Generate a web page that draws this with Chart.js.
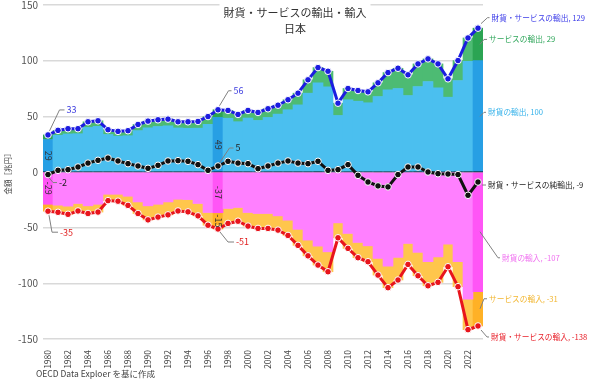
<!DOCTYPE html>
<html>
<head>
<meta charset="utf-8">
<script src="https://cdn.jsdelivr.net/npm/chart.js@4/dist/chart.umd.min.js"></script>
<style>
  html, body { margin: 0; padding: 0; background: #fff; }
  #wrap { width: 590px; height: 385px; }
</style>
</head>
<body>
<div id="wrap"><canvas id="chart" width="590" height="385"></canvas></div>
<script>
const years = ['1980','1981','1982','1983','1984','1985','1986','1987','1988','1989',
  '1990','1991','1992','1993','1994','1995','1996','1997','1998','1999',
  '2000','2001','2002','2003','2004','2005','2006','2007','2008','2009',
  '2010','2011','2012','2013','2014','2015','2016','2017','2018','2019',
  '2020','2021','2022','2023'];

// 兆円
const goodsExports = [29.2, 33, 34.2, 34.4, 40, 41, 33.7, 32.2, 32.6, 37.2,
  39.7, 40.9, 41.5, 39.6, 39.3, 39.4, 42.8, 49, 48.3, 45.2,
  48.5, 46.3, 49, 52, 55.9, 60.3, 70.8, 80, 76.5, 50.8,
  64.9, 63.6, 62.2, 67.8, 73.8, 75, 68.7, 76.8, 81.3, 75.6,
  67.2, 82.2, 99.5, 100];
const servicesExports = [4.1, 4.4, 4.7, 4.5, 5.1, 5, 4.3, 4.3, 4.5, 5.5,
  6, 6, 6, 5.5, 5.8, 6, 7, 6.9, 7, 6.5,
  6.8, 7.2, 7.8, 8, 9, 10.5, 12, 13.8, 14, 11,
  10.1, 9.6, 9.8, 12.3, 15.5, 18.2, 18.6, 20.3, 20.3, 21.5,
  16.5, 17.9, 20.9, 29.2];
const goodsImports = [-29, -29.8, -30.7, -28.3, -30.4, -29, -20, -20, -21.8, -26.9,
  -30.4, -29, -26.9, -24.5, -24.8, -28.3, -36.4, -36.6, -32.8, -31.9,
  -36.4, -37.3, -37.3, -39.4, -43.3, -51.5, -61.2, -66.6, -71.7, -45.7,
  -55.2, -63.3, -66.3, -77.6, -84.5, -76.7, -64.2, -72.2, -80.6, -76.2,
  -64.8, -80.6, -114.3, -107.4];
const servicesImports = [-6.2, -6.4, -7.3, -6.7, -6.9, -7, -5.7, -6.2, -8.2, -10.4,
  -12.6, -11.5, -11.6, -10.5, -11, -11.1, -11.4, -14.6, -13.4, -12.3,
  -12.2, -13.4, -13.4, -12.8, -13.7, -14.4, -14.1, -17, -17.9, -13.4,
  -13.4, -13.7, -14.3, -15, -19.4, -20.3, -18.8, -21, -21.6, -22.9,
  -20.3, -22.4, -27.3, -30.9];
const totalExports = [33.3, 37.4, 38.9, 38.9, 45.1, 46, 38, 36.5, 37.1, 42.7,
  45.7, 46.9, 47.5, 45.1, 45.1, 45.4, 49.8, 55.9, 55.3, 51.7,
  55.3, 53.5, 56.8, 60, 64.9, 70.8, 82.8, 93.8, 90.5, 61.8,
  75, 73.2, 72, 80.1, 89.3, 93.2, 87.3, 97.1, 101.6, 97.1,
  83.7, 100.1, 120.4, 129.2];
const netExports = [-2.3, 1.5, 2.1, 4.5, 8, 10.5, 12.5, 9.9, 7.5, 5.4,
  3.3, 6, 9.9, 10.2, 9.6, 6.6, 1.5, 5.4, 9.6, 8,
  7.5, 3, 5.4, 8, 9.9, 8, 7.5, 9.6, 1.5, 2.1,
  6.6, -3, -9, -12.5, -13.4, -2.3, 4.5, 4.5, 0, -1.5,
  -1.8, -2.3, -20.9, -9];
const totalImports = [-35.2, -36.2, -38, -35, -37.3, -36, -25.7, -26.2, -30, -37.3,
  -43, -40.5, -38.5, -35, -35.8, -39.4, -47.8, -51.2, -46.2, -44.2,
  -48.6, -50.7, -50.7, -52.2, -57, -65.9, -75.3, -83.6, -89.6, -59.1,
  -68.6, -77, -80.6, -92.6, -103.9, -97, -83, -93.2, -102.2, -99.1,
  -85.1, -103, -141.6, -138.3];

const yTicks = [-150, -100, -50, 0, 50, 100, 150];
const highlightYears = ['1980', '1997', '2023'];

const FONT = "'Noto Sans CJK JP', 'Noto Sans', sans-serif";

function barColors(normal, strong) {
  return years.map(y => highlightYears.includes(y) ? strong : normal);
}

function lineSet(label, data, color, stack) {
  return {
    type: 'line', label: label, data: data, stack: stack, order: 0,
    borderColor: color, backgroundColor: color, borderWidth: 3,
    pointRadius: 3.3, pointBackgroundColor: color,
    pointBorderColor: '#ffffff', pointBorderWidth: 1, tension: 0
  };
}

function barSet(label, data, normal, strong) {
  return {
    type: 'bar', label: label, data: data, stack: 'bars', order: 2,
    backgroundColor: barColors(normal, strong), borderWidth: 0,
    barPercentage: 1, categoryPercentage: 1
  };
}

const annotations = {
  id: 'annotations',
  afterDraw(chart) {
    const c = chart.ctx;
    const xs = chart.scales.x, ys = chart.scales.y;
    const area = chart.chartArea;
    const px = i => xs.getPixelForValue(i);
    const py = v => ys.getPixelForValue(v);
    const i80 = years.indexOf('1980'), i97 = years.indexOf('1997'), iLast = years.length - 1;

    c.save();
    // title with white box over the top grid line
    c.font = '11px ' + FONT;
    c.textAlign = 'center';
    c.textBaseline = 'middle';
    const t1 = '財貨・サービスの輸出・輸入';
    const w = c.measureText(t1).width;
    c.fillStyle = '#ffffff';
    c.fillRect(295 - w / 2 - 4, 0, w + 8, 38);
    c.fillStyle = '#333333';
    c.fillText(t1, 295, 13);
    c.fillText('日本', 295, 29);

    // y axis title
    c.save();
    c.translate(8, (area.top + area.bottom) / 2);
    c.rotate(-Math.PI / 2);
    c.font = '7.5px ' + FONT;
    c.fillStyle = '#444444';
    c.fillText('金額［兆円］', 0, 0);
    c.restore();

    // footer
    c.font = '8.5px ' + FONT;
    c.textAlign = 'left';
    c.fillStyle = '#444444';
    c.fillText('OECD Data Exploer を基に作成', 36, 374);

    // values inside highlighted bars (rotated)
    function barText(i, mid, val) {
      c.save();
      c.translate(px(i), py(mid));
      c.rotate(Math.PI / 2);
      c.font = '9px ' + FONT;
      c.textAlign = 'center';
      c.textBaseline = 'middle';
      c.fillStyle = '#333333';
      c.fillText(String(Math.round(val)), 0, 0);
      c.restore();
    }
    [i80, i97].forEach(i => {
      barText(i, goodsExports[i] / 2, goodsExports[i]);
      barText(i, goodsImports[i] / 2, goodsImports[i]);
    });
    barText(i97, goodsImports[i97] + servicesImports[i97] / 2, servicesImports[i97]);

    // callouts with leader lines
    function callout(x0, y0, dx, dy, tail, text, color, size) {
      c.strokeStyle = '#808080';
      c.lineWidth = 1;
      c.beginPath();
      c.moveTo(x0, y0);
      c.lineTo(x0 + dx, y0 + dy);
      c.lineTo(x0 + dx + tail, y0 + dy);
      c.stroke();
      c.font = size + 'px ' + FONT;
      c.textAlign = 'left';
      c.textBaseline = 'middle';
      c.fillStyle = color;
      c.fillText(text, x0 + dx + tail + 2, y0 + dy);
    }
    const r = n => String(Math.round(n));
    callout(px(i80) + 1.5, py(totalExports[i80]) - 4, 10, -21, 5, r(totalExports[i80]), '#4040e0', 9);
    callout(px(i97) + 1.5, py(totalExports[i97]) - 4, 9, -15, 3, r(totalExports[i97]), '#4040e0', 9);
    callout(px(i97) + 1.5, py(netExports[i97]) - 3, 10, -15, 4, r(netExports[i97]), '#222222', 9);
    callout(px(i80) + 1, py(netExports[i80]) + 3, 4, 5, 4, r(netExports[i80]), '#222222', 9);
    callout(px(i80) + 1, py(totalImports[i80]) + 4, 3, 17, 6, r(totalImports[i80]), '#e02020', 9);
    callout(px(i97) + 2, py(totalImports[i97]) + 3, 8, 10, 6, r(totalImports[i97]), '#e02020', 9);

    const xr = area.right - 3;
    const fs = 7.7;
    callout(px(iLast) + 3, py(totalExports[iLast]) - 4.5, 6.5, -6, 2,
      '財貨・サービスの輸出, ' + r(totalExports[iLast]), '#3a3ae8', fs);
    callout(xr, py(goodsExports[iLast] + servicesExports[iLast] / 2), 4, -5, 3,
      'サービスの輸出, ' + r(servicesExports[iLast]), '#2fa65a', fs);
    callout(xr, py(goodsExports[iLast] / 2), 4, -4, 2,
      '財貨の輸出, ' + r(goodsExports[iLast]), '#35b2ea', fs);
    callout(px(iLast) + 4, py(netExports[iLast]) + 3, 1, 0, 3,
      '財貨・サービスの純輸出, ' + r(netExports[iLast]), '#222222', fs);
    callout(xr, py(goodsImports[iLast] / 2), 18, 26, 2,
      '財貨の輸入, ' + r(goodsImports[iLast]), '#f070f0', fs);
    callout(xr, py(goodsImports[iLast] + servicesImports[iLast] / 2), 4, -10, 3,
      'サービスの輸入, ' + r(servicesImports[iLast]), '#f2b630', fs);
    callout(px(iLast) + 3, py(totalImports[iLast]) + 4, 6, 7, 2,
      '財貨・サービスの輸入, ' + r(totalImports[iLast]), '#e8202a', fs);
    c.restore();
  }
};

new Chart(document.getElementById('chart'), {
  data: {
    labels: years,
    datasets: [
      barSet('財貨の輸出', goodsExports, '#4bbfef', '#279fe4'),
      barSet('サービスの輸出', servicesExports, '#4dbb73', '#2ba453'),
      barSet('財貨の輸入', goodsImports, '#ff80ff', '#ff55f6'),
      barSet('サービスの輸入', servicesImports, '#ffc64c', '#ffb126'),
      lineSet('財貨・サービスの輸出', totalExports, '#1c1ce0', 'l1'),
      lineSet('財貨・サービスの純輸出', netExports, '#111111', 'l2'),
      lineSet('財貨・サービスの輸入', totalImports, '#e8141c', 'l3')
    ]
  },
  options: {
    responsive: false,
    animation: false,
    layout: { padding: { top: 4, right: 107, left: 0, bottom: 0 } },
    plugins: {
      legend: { display: false },
      tooltip: { enabled: false },
      title: { display: false }
    },
    scales: {
      x: {
        stacked: true,
        grid: { display: false },
        border: { display: false },
        afterFit(scale) { scale.height = 46; scale.paddingLeft = 0; scale.paddingRight = 0; },
        ticks: {
          autoSkip: false, minRotation: 90, maxRotation: 90, padding: 3,
          color: '#444444', font: { family: FONT, size: 8.5 },
          callback: (v, i) => (i % 2 === 0 ? years[i] : '')
        }
      },
      y: {
        stacked: true,
        min: yTicks[0], max: yTicks[yTicks.length - 1],
        z: 1,
        border: { display: false },
        afterFit(scale) { scale.width = 43; scale.paddingTop = 0; scale.paddingBottom = 0; },
        afterBuildTicks(scale) { scale.ticks = yTicks.map(v => ({ value: v })); },
        grid: {
          drawTicks: false,
          color: ctx => (ctx.tick && ctx.tick.value === 0 ? '#000000' : 'rgba(0,0,0,0.15)'),
          lineWidth: 1.5
        },
        ticks: { padding: 5, color: '#555555', font: { family: FONT, size: 10 } }
      }
    }
  },
  plugins: [annotations]
});
</script>
</body>
</html>
